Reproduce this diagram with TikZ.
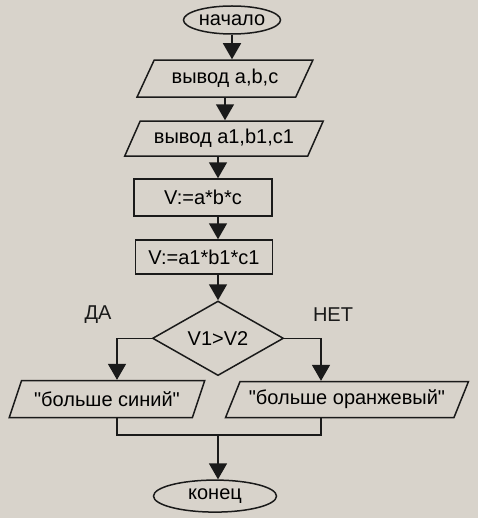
\documentclass[tikz,border=0pt]{standalone}
\usepackage{fontspec}
\newfontfamily\fcface{Liberation Sans}
\usepackage{tikz}
\usetikzlibrary{arrows.meta,positioning,shapes.geometric}
\definecolor{fcbg}{HTML}{D8D3CB}
\definecolor{fcink}{HTML}{1A1A1A}
\newcommand{\fcfont}{\fcface\fontsize{20}{23}\selectfont}

\begin{document}
\begin{tikzpicture}[
  x=1pt, y=1pt,
  node distance=24pt,
  ink/.style={draw=fcink, line width=1.5pt},
  term/.style={ellipse, ink, font=\fcfont, inner sep=0pt},
  io/.style={trapezium, trapezium left angle=55, trapezium right angle=125,
             trapezium stretches=true, ink, font=\fcfont, inner sep=0pt},
  proc/.style={rectangle, ink, font=\fcfont, inner sep=0pt},
  test/.style={diamond, ink, font=\fcfont, inner sep=0pt,
               minimum width=131pt, minimum height=62pt},
  lbl/.style={font=\fcfont, text=fcink},
  ar/.style={ink, -{Triangle[length=16pt, width=18pt]}},
]
\useasboundingbox (0,0) rectangle (478,-518);
\fill[fcbg] (0,0) rectangle (478,-518);

% main column
\node[term, minimum width=97pt, minimum height=28pt] (start) at (232,-20) {начало};
\node[io, below=24.5pt of start, xshift=-7pt, minimum width=176pt, minimum height=37pt] (out1) {вывод a,b,c};
\node[io, below=22.5pt of out1, xshift=-1pt, minimum width=199pt, minimum height=35pt] (out2) {вывод a1,b1,c1};
\node[proc, below=21.5pt of out2, xshift=-21pt, minimum width=138pt, minimum height=37pt] (calc1) {V:=a*b*c};
\node[proc, below=22.5pt of calc1, xshift=1pt, minimum width=137pt, minimum height=34pt] (calc2) {V:=a1*b1*c1};
\node[test, below=25.5pt of calc2, xshift=14pt] (dec) {V1>V2};

% branches
\node[io, below=3.5pt of dec, xshift=-111pt, minimum width=196pt, minimum height=37pt] (yes) {"больше синий"};
\node[io, below=4.5pt of dec, xshift=129pt, minimum width=243pt, minimum height=36pt] (no) {"больше оранжевый"};
\node[term, below=103pt of dec, xshift=-3pt, minimum width=123pt, minimum height=32pt] (finish) {конец};

\node[lbl] (lblyes) at (98,-315) {ДА};
\node[lbl] (lblno) at (333,-315) {НЕТ};

\coordinate (merge) at (218,-435);

\draw[ar] (start.south) -- (start.south |- out1.north);
\draw[ar] (out1.south) -- (out1.south |- out2.north);
\draw[ar] (out2.south -| dec.north) -- (dec.north |- calc1.north);
\draw[ar] (calc1.south -| dec.north) -- (dec.north |- calc2.north);
\draw[ar] (calc2.south -| dec.north) -- (dec.north);

\draw[ar] (dec.west) -| ([xshift=10pt]yes.north);
\draw[ar] (dec.east) -| ([xshift=-26pt]no.north);

\draw[ink] ([xshift=10pt]yes.south) |- (merge) -| ([xshift=-26pt]no.south);
\draw[ar] (merge) -- (merge |- finish.north);

\end{tikzpicture}
\end{document}
